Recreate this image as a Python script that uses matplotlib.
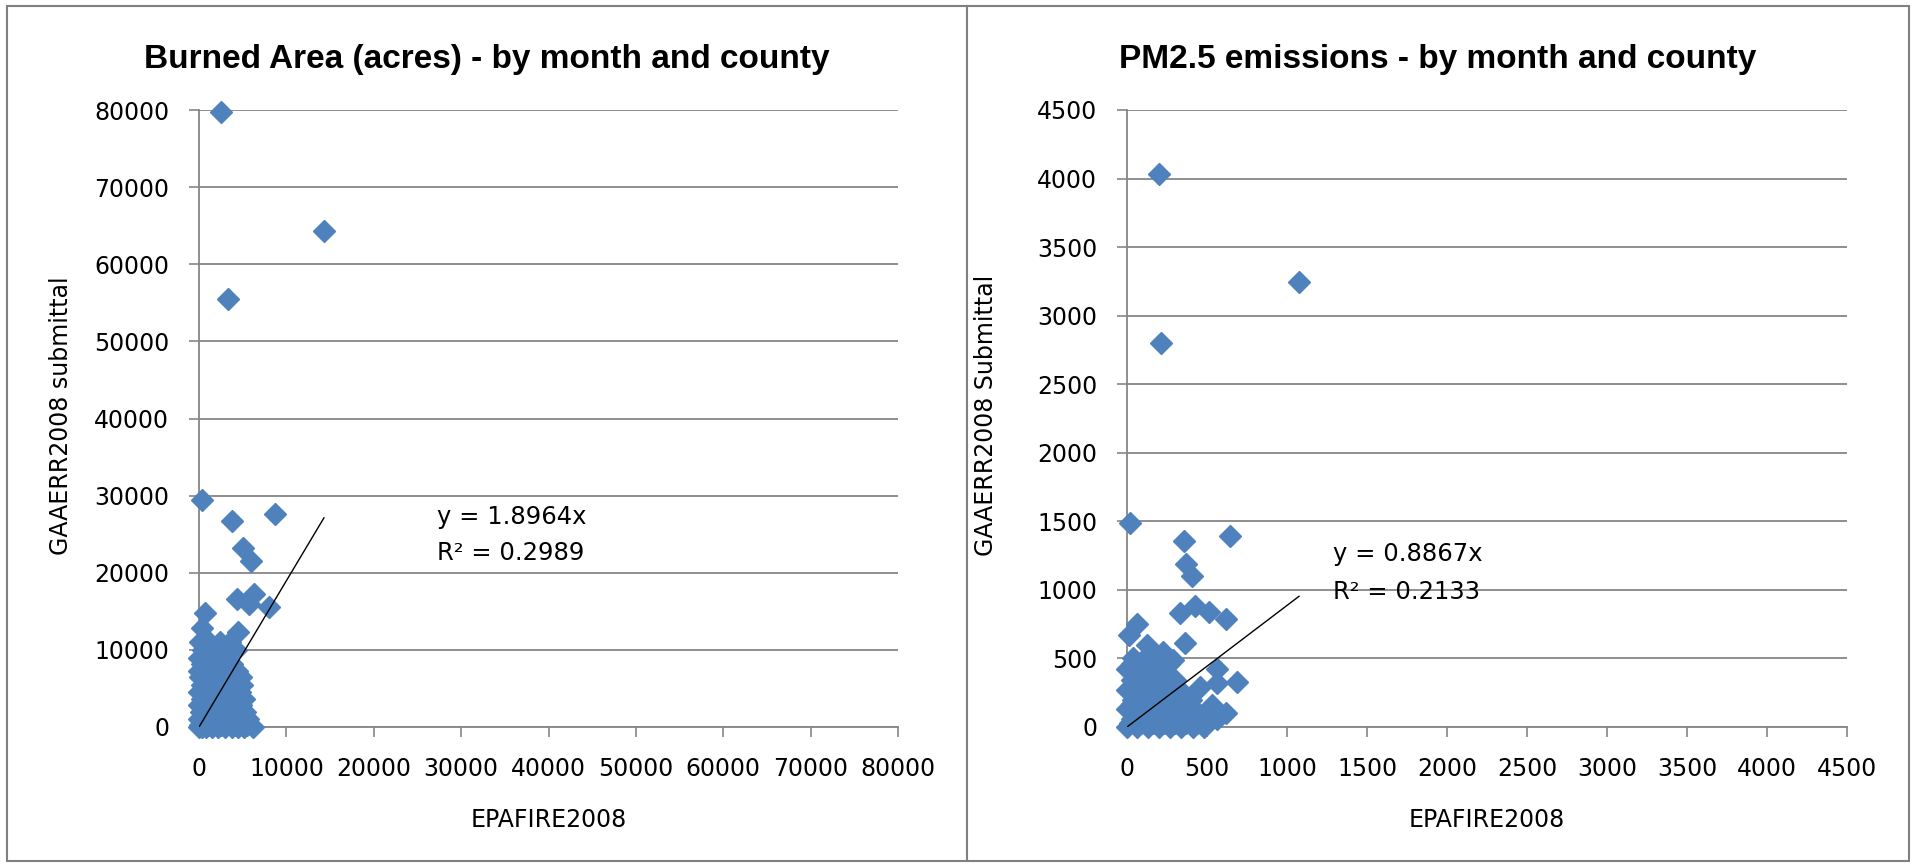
# Excel-style scatter comparison: GAAERR2008 submittal vs EPAFIRE2008
import numpy as np
import matplotlib.pyplot as plt
from matplotlib.patches import Rectangle
from matplotlib.lines import Line2D

# ---- data ----
# burned area (acres), by month and county
area_epa = [2540, 14300, 3350, 350, 3800, 8700, 5000, 5900, 4400, 6300, 5700, 8000, 700, 350, 4500,
            0, 300, 800, 1500, 2200, 3000, 3800, 4500, 5200, 6200,
            100, 1000, 2500, 4000, 5500,
            0, 600, 1400, 2600, 3500, 4600, 5600,
            200, 900, 1800, 3000, 4200, 5300,
            0, 1200, 2400, 3600, 4800,
            300, 1500, 2800, 4300, 5200,
            0, 1000, 2200, 3400, 4700,
            400, 1600, 2700, 3900, 4900,
            100, 1200, 2300, 3500, 4800,
            0, 900, 2000, 3200, 4400,
            300, 1400, 2600, 3800,
            0, 1000, 2100, 3300,
            500, 1600, 2800, 4200,
            100, 1200, 2400, 3500]
area_gaaerr = [79800, 64300, 55500, 29400, 26700, 27600, 23200, 21500, 16600, 17300, 16000, 15500, 14800, 12900, 12300,
               0, 0, 0, 0, 0, 0, 0, 0, 0, 0,
               300, 300, 300, 300, 300,
               1000, 1000, 1000, 1000, 1000, 1000, 1000,
               2000, 2000, 2000, 2000, 2000, 2000,
               2800, 2800, 2800, 2800, 2800,
               3600, 3600, 3600, 3600, 3600,
               4500, 4500, 4500, 4500, 4500,
               5500, 5500, 5500, 5500, 5500,
               6500, 6500, 6500, 6500, 6500,
               7300, 7300, 7300, 7300, 7300,
               8200, 8200, 8200, 8200,
               9000, 9000, 9000, 9000,
               10000, 10000, 10000, 10000,
               11000, 11000, 11000, 11000]
area_slope = 1.8964
area_eq = ["y = 1.8964x", "R\u00b2 = 0.2989"]

# PM2.5 emissions, by month and county
pm_epa = [200, 1075, 212, 20, 355, 645, 370, 405, 330, 425, 510, 620, 60, 15, 125, 360, 225, 290,
          685, 560, 560, 620, 530, 455,
          0, 60, 130, 200, 270, 340, 410, 480,
          20, 90, 160, 230, 300, 370, 440,
          30, 100, 170, 240, 310, 380, 450, 560,
          0, 70, 140, 210, 280, 350, 420, 520,
          30, 100, 170, 240, 310, 380,
          40, 110, 180, 250, 320, 400,
          0, 70, 140, 210, 290, 350,
          30, 100, 170, 240, 300,
          0, 80, 160, 230,
          30, 110, 190, 260,
          40, 110, 190]
pm_gaaerr = [4030, 3245, 2800, 1490, 1360, 1390, 1190, 1100, 830, 880, 840, 790, 750, 670, 600, 610, 550, 490,
             330, 420, 320, 100, 160, 290,
             0, 0, 0, 0, 0, 0, 0, 0,
             30, 30, 30, 30, 30, 30, 30,
             60, 60, 60, 60, 60, 60, 60, 60,
             130, 130, 130, 130, 130, 130, 130, 130,
             165, 165, 165, 165, 165, 165,
             200, 200, 200, 200, 200, 200,
             270, 270, 270, 270, 270, 250,
             340, 340, 340, 340, 340,
             420, 420, 420, 420,
             460, 460, 460, 460,
             500, 500, 500]
pm_slope = 0.8867
pm_eq = ["y = 0.8867x", "R\u00b2 = 0.2133"]

W, H = 1916, 865
BLUE = "#4F81BD"
GRAY = "#868686"

plt.rcParams["font.family"] = ["DejaVu Sans"]

fig = plt.figure(figsize=(W / 100, H / 100), dpi=100)


def px_axes(x0, x1, y_top, y_bot):
    return fig.add_axes([x0 / W, 1 - y_bot / H, (x1 - x0) / W, (y_bot - y_top) / H])


def draw(ax, x, y, slope, eq, xmax, ystep, xstep, eq_pos, ylabel, ylab_x):
    x = np.array(x)
    y = np.array(y)
    ax.set_xlim(0, xmax)
    ax.set_ylim(0, xmax)
    ax.set_xticks(np.arange(0, xmax + 1, xstep))
    ax.set_yticks(np.arange(0, xmax + 1, ystep))
    ax.grid(axis="y", color=GRAY, lw=1.3)
    ax.set_axisbelow(True)
    for s in ["top", "right"]:
        ax.spines[s].set_visible(False)
    for s in ["left", "bottom"]:
        ax.spines[s].set_color(GRAY)
        ax.spines[s].set_linewidth(1.3)
    ax.tick_params(axis="x", direction="out", length=7.5, width=1.2, color=GRAY,
                   labelsize=17, pad=14)
    ax.tick_params(axis="y", direction="out", length=7.5, width=1.2, color=GRAY,
                   labelsize=17, pad=14)

    ax.plot(x, y, linestyle="none", marker="D", ms=11.5, color=BLUE,
            mec=BLUE, clip_on=False, zorder=3)
    xe = x.max()
    ax.plot([0, xe], [0, slope * xe], color="black", lw=1, zorder=4)

    ax.text(eq_pos[0], eq_pos[1], eq[0], fontsize=17.5, va="center", zorder=5)
    ax.text(eq_pos[0], eq_pos[2], eq[1], fontsize=17.5, va="center", zorder=5)

    ax.set_xlabel("EPAFIRE2008", fontsize=17, va="center")
    ax.xaxis.set_label_coords(0.5, -0.151)
    ax.set_ylabel(ylabel, fontsize=17, va="center")
    ax.yaxis.set_label_coords(ylab_x, 0.505)


ax1 = px_axes(199, 898, 110, 727)
draw(ax1, area_epa, area_gaaerr, area_slope, area_eq, 80000, 10000, 10000,
     (27200, 27200, 22570), "GAAERR2008 submittal", -0.197)

ax2 = px_axes(1127, 1847, 110, 727)
draw(ax2, pm_epa, pm_gaaerr, pm_slope, pm_eq, 4500, 500, 500,
     (1287, 1261, 984), "GAAERR2008 Submittal", -0.196)

fig.text(487 / W, 1 - 68 / H, "Burned Area (acres) - by month and county",
         family="Liberation Sans", weight="bold", fontsize=24, ha="center", va="baseline")
fig.text(1438 / W, 1 - 68 / H, "PM2.5 emissions - by month and county",
         family="Liberation Sans", weight="bold", fontsize=24, ha="center", va="baseline")

# chart frames
fig.add_artist(Rectangle((7 / W, 4 / H), (1909 - 7) / W, (859 - 4) / H,
                         transform=fig.transFigure, fill=False, ec="#808080", lw=1.5))
fig.add_artist(Line2D([967 / W, 967 / W], [4 / H, 1 - 6 / H],
                      transform=fig.transFigure, color="#808080", lw=1.5))

fig.savefig("out.png", dpi=100)
